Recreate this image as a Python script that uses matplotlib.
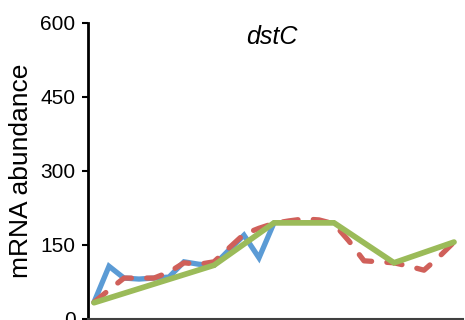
import numpy as np
import matplotlib
matplotlib.use("Agg")
import matplotlib.pyplot as plt

# ============================================================
# DATA
# ============================================================

blue_x = list(range(13))
blue_y = [33, 106, 82, 80, 82, 84, 115, 110, 108, 139, 169, 123, 194]

red_x = list(range(25))
red_y = [33, 58, 82, 82, 82, 94, 113, 110, 115, 143, 171, 183, 193,
         198, 202, 200, 192, 157, 117, 115, 113, 106, 98, 125, 155]

green_x = [0, 8, 12, 16, 20, 24]
green_y = [32, 108, 194, 194, 113, 155]

y_ticks = [0, 150, 300, 450, 600]

# ============================================================
# PLOT
# ============================================================

plt.rcParams["font.family"] = ["Liberation Sans", "DejaVu Sans"]

W, H = 465, 320
fig = plt.figure(figsize=(W / 100, H / 100), dpi=100)

left, right = 88, 463
top, bottom = 22.7, 318.5
ax = fig.add_axes([left / W, (H - bottom) / H,
                   (right - left) / W, (bottom - top) / H])

lw = 3.8
ax.plot(blue_x, blue_y, color="#5b9bd5", linewidth=lw,
        solid_capstyle="round", solid_joinstyle="miter")
ax.plot(red_x, red_y, color="#d0605a", linewidth=lw,
        linestyle=(0, (2.9, 2.9)), dash_capstyle="round")
ax.plot(green_x, green_y, color="#9bbb59", linewidth=lw + 0.3,
        solid_capstyle="round", solid_joinstyle="miter")

ax.set_xlim(-0.4, 24.6)
ax.set_ylim(0, 600)
ax.set_yticks(y_ticks)
ax.set_xticks([])

ax.spines["top"].set_visible(False)
ax.spines["right"].set_visible(False)
ax.spines["left"].set_linewidth(2)
ax.spines["bottom"].set_linewidth(1.5)
ax.spines["bottom"].set_color("#404040")

ax.tick_params(axis="y", direction="out", length=4, width=1.5,
               labelsize=15, pad=5)

ax.set_ylabel("mRNA abundance", fontsize=19, labelpad=5)

fig.text(272 / W, 1 - 37 / H, "dstC", fontsize=18, style="italic",
         ha="center", va="center")

fig.savefig("out.png", dpi=100)
